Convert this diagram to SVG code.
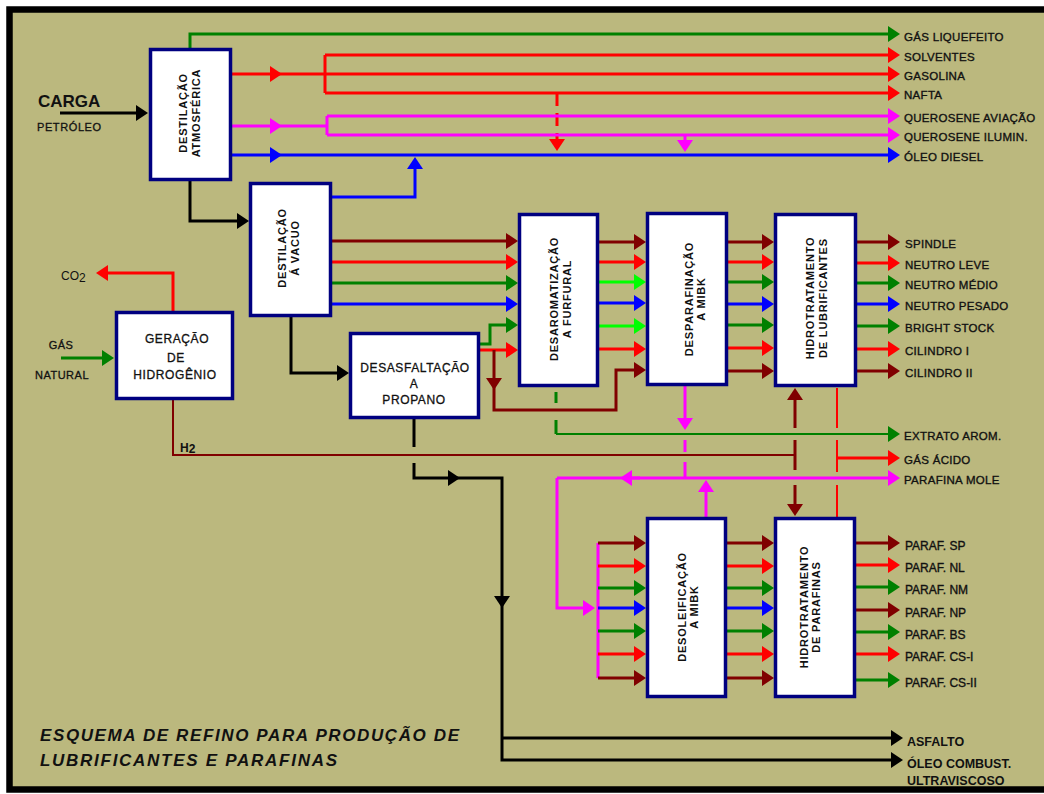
<svg xmlns="http://www.w3.org/2000/svg" width="1044" height="794" viewBox="0 0 1044 794">
<style>
.t{font-family:"Liberation Sans",Arial,sans-serif;fill:#111}
.lb{font-size:11.5px;stroke:#111;stroke-width:0.35px;letter-spacing:0.3px}
.pl{font-size:12px;stroke:#111;stroke-width:0.35px}
.vt{font-size:11px;font-weight:bold;letter-spacing:0.8px;text-anchor:middle}
.ht{font-size:12px;text-anchor:middle;letter-spacing:0.6px;stroke:#111;stroke-width:0.3px}
.bx{fill:#fff;stroke:#000080;stroke-width:3.5}
.c{fill:none;stroke-width:3}
.thin{stroke-width:2}
.dr{stroke:#800000}.r{stroke:#f00}.g{stroke:#008000}.lg{stroke:#0f0}.b{stroke:#00f}.m{stroke:#f0f}.k{stroke:#000}
.mdr{marker-end:url(#adr)}.mr{marker-end:url(#ar)}.mg{marker-end:url(#ag)}.mlg{marker-end:url(#alg)}.mb{marker-end:url(#ab)}.mm{marker-end:url(#am)}.mk{marker-end:url(#ak)}
</style>
<defs>
<marker id="adr" viewBox="0 0 12 16" refX="9" refY="8" markerWidth="12" markerHeight="16" markerUnits="userSpaceOnUse" orient="auto"><path d="M0,0 L12,8 L0,16 z" fill="#800000"/></marker>
<marker id="ar" viewBox="0 0 12 16" refX="9" refY="8" markerWidth="12" markerHeight="16" markerUnits="userSpaceOnUse" orient="auto"><path d="M0,0 L12,8 L0,16 z" fill="#f00"/></marker>
<marker id="ag" viewBox="0 0 12 16" refX="9" refY="8" markerWidth="12" markerHeight="16" markerUnits="userSpaceOnUse" orient="auto"><path d="M0,0 L12,8 L0,16 z" fill="#008000"/></marker>
<marker id="alg" viewBox="0 0 12 16" refX="9" refY="8" markerWidth="12" markerHeight="16" markerUnits="userSpaceOnUse" orient="auto"><path d="M0,0 L12,8 L0,16 z" fill="#0f0"/></marker>
<marker id="ab" viewBox="0 0 12 16" refX="9" refY="8" markerWidth="12" markerHeight="16" markerUnits="userSpaceOnUse" orient="auto"><path d="M0,0 L12,8 L0,16 z" fill="#00f"/></marker>
<marker id="am" viewBox="0 0 12 16" refX="9" refY="8" markerWidth="12" markerHeight="16" markerUnits="userSpaceOnUse" orient="auto"><path d="M0,0 L12,8 L0,16 z" fill="#f0f"/></marker>
<marker id="ak" viewBox="0 0 12 16" refX="9" refY="8" markerWidth="12" markerHeight="16" markerUnits="userSpaceOnUse" orient="auto"><path d="M0,0 L12,8 L0,16 z" fill="#000"/></marker>
</defs>
<rect x="0" y="0" width="1044" height="794" fill="#fff"/>
<rect x="9.5" y="9.5" width="1060" height="780" fill="#bbb87e" stroke="#000" stroke-width="6.5"/>

<g id="connectors">
<!-- top: atmospheric distillation outputs -->
<path class="c g mg" d="M190,48 V34 H897"/>
<path class="c r mr" d="M232,74 H279"/>
<path class="c r mr" d="M279,74 H897"/>
<path class="c r" d="M325,55 V93"/>
<path class="c r mr" d="M325,55 H897"/>
<path class="c r mr" d="M325,93 H897"/>
<path class="c r mr" stroke-width="2.5" stroke-dasharray="13 7" d="M557,93 V148"/>
<path class="c m mm" d="M232,126 H279"/>
<path class="c m" d="M279,126 H327"/>
<path class="c m" d="M327,116 V135"/>
<path class="c m mm" d="M327,116 H897"/>
<path class="c m mm" d="M327,135 H897"/>
<path class="c m mm" d="M685,135 V149"/>
<path class="c b mb" d="M232,155 H279"/>
<path class="c b mb" d="M279,155 H897"/>
<path class="c b mb" d="M332,197 H415 V160"/>
<!-- left -->
<path class="c k mk" d="M60,113 H145"/>
<path class="c k mk" d="M190,181 V221 H246"/>
<path class="c r mr" d="M173,311 V273 H99"/>
<path class="c g mg" stroke-width="2.5" d="M61,358 H111"/>
<path class="c dr thin" d="M173,400 V455 H795"/>
<path class="c k mk" d="M291,317 V373 H346"/>
<!-- vacuum -> desaromatization -->
<path class="c dr mdr" d="M332,241 H515"/>
<path class="c r mr" d="M332,262 H515"/>
<path class="c g mg" d="M332,283 H515"/>
<path class="c b mb" d="M332,304 H515"/>
<!-- deasphalting outputs -->
<path class="c g mg" d="M479,344 H490 V325 H515"/>
<path class="c r mr" d="M479,350 H515"/>
<path class="c dr mdr" d="M494,350 V387"/>
<path class="c dr mdr" d="M494,385 V410 H616 V370 H643"/>
<!-- desaromatization -> dewaxing -->
<path class="c dr mdr" d="M599,242 H643"/>
<path class="c r mr" d="M599,262 H643"/>
<path class="c lg mlg" d="M599,282 H643"/>
<path class="c b mb" d="M599,303 H643"/>
<path class="c lg mlg" d="M599,326 H643"/>
<path class="c r mr" d="M599,349 H643"/>
<!-- extract -->
<path class="c g" d="M556,392 V403 M556,420 V434"/>
<path class="c g mg thin" d="M556,434 H897"/>
<!-- dewaxing -> hydrotreating lubes -->
<path class="c dr mdr" d="M728,242 H771"/>
<path class="c r mr" d="M728,262 H771"/>
<path class="c g mg" d="M728,282 H771"/>
<path class="c b mb" d="M728,304 H771"/>
<path class="c g mg" d="M728,325 H771"/>
<path class="c r mr" d="M728,348 H771"/>
<path class="c dr mdr" d="M728,371 H771"/>
<path class="c m mm" d="M685,385 V427"/>
<path class="c m" d="M685,440 V452 M685,462 V478"/>
<!-- hydrotreating lubes outputs -->
<path class="c dr mdr" d="M857,242 H897"/>
<path class="c r mr" d="M857,263 H897"/>
<path class="c g mg" d="M857,283 H897"/>
<path class="c b mb" d="M857,304 H897"/>
<path class="c g mg" d="M857,326 H897"/>
<path class="c r mr" d="M857,349 H897"/>
<path class="c dr mdr" d="M857,371 H897"/>
<!-- H2 distribution & acid gas -->
<path class="c dr mdr" d="M795,428 V391"/>
<path class="c dr" d="M795,440 V470"/>
<path class="c dr mdr" d="M795,485 V513"/>
<path class="c r thin" d="M837,388 V428 M837,440 V472 M837,485 V517"/>
<path class="c r mr" d="M837,458 H897"/>
<!-- soft wax -->
<path class="c m mm" d="M557,478 H897"/>
<path class="c m mm" d="M640,478 H623"/>
<path class="c m mm" d="M557,478 V608 H592"/>
<path class="c m mm" d="M706,517 V483"/>
<path class="c m" d="M598,543 V678"/>
<!-- deoiling inputs -->
<path class="c dr mdr" d="M598,543 H643"/>
<path class="c r mr" d="M598,566 H643"/>
<path class="c g mg" d="M598,588 H643"/>
<path class="c b mb" d="M598,608 H643"/>
<path class="c g mg" d="M598,631 H643"/>
<path class="c r mr" d="M598,654 H643"/>
<path class="c dr mdr" d="M598,678 H643"/>
<!-- deoiling -> hydrotreating waxes -->
<path class="c dr mdr" d="M727,543 H771"/>
<path class="c r mr" d="M727,566 H771"/>
<path class="c g mg" d="M727,588 H771"/>
<path class="c b mb" d="M727,608 H771"/>
<path class="c g mg" d="M727,631 H771"/>
<path class="c r mr" d="M727,654 H771"/>
<path class="c dr mdr" d="M727,678 H771"/>
<!-- hydrotreating waxes outputs -->
<path class="c dr mdr" d="M856,543 H897"/>
<path class="c r mr" d="M856,565 H897"/>
<path class="c g mg" d="M856,587 H897"/>
<path class="c dr mdr" d="M856,610 H897"/>
<path class="c g mg" d="M856,632 H897"/>
<path class="c r mr" d="M856,654 H897"/>
<path class="c g mg" d="M856,680 H897"/>
<!-- asphalt -->
<path class="c k" d="M414,419 V447"/>
<path class="c k mk" d="M414,463 V478 H457"/>
<path class="c k mk" d="M457,478 H502 V605"/>
<path class="c k mk" d="M502,603 V760 H900"/>
<path class="c k mk" d="M502,738 H900"/>
</g>

<g id="destilacao-atmosferica">
<rect class="bx" x="150.5" y="49.5" width="80" height="130"/>
<text class="t vt" transform="translate(193,113) rotate(-90)"><tspan x="0" y="-6">DESTILAÇÃO</tspan><tspan x="0" y="7">ATMOSFÉRICA</tspan></text>
</g>
<g id="destilacao-vacuo">
<rect class="bx" x="250.5" y="183.5" width="80" height="132"/>
<text class="t vt" transform="translate(292,248) rotate(-90)"><tspan x="0" y="-6">DESTILAÇÃO</tspan><tspan x="0" y="7">Á VACUO</tspan></text>
</g>
<g id="geracao-hidrogenio">
<rect class="bx" x="116.5" y="312.5" width="116" height="86"/>
<text class="t ht" x="177" y="343">GERAÇÃO</text>
<text class="t ht" x="176" y="362">DE</text>
<text class="t ht" x="175" y="379">HIDROGÊNIO</text>
</g>
<g id="desasfaltacao">
<rect class="bx" x="350.5" y="333.5" width="128" height="84"/>
<text class="t ht" x="415" y="372">DESASFALTAÇÃO</text>
<text class="t ht" x="414" y="388">A</text>
<text class="t ht" x="414" y="404">PROPANO</text>
</g>
<g id="desaromatizacao">
<rect class="bx" x="519.5" y="214.5" width="78" height="171"/>
<text class="t vt" transform="translate(564,299) rotate(-90)"><tspan x="0" y="-6">DESAROMATIZAÇÃO</tspan><tspan x="0" y="7">A FURFURAL</tspan></text>
</g>
<g id="desparafinacao">
<rect class="bx" x="647.5" y="213.5" width="79" height="171"/>
<text class="t vt" transform="translate(699,299) rotate(-90)"><tspan x="0" y="-6">DESPARAFINAÇÃO</tspan><tspan x="0" y="6">A MIBK</tspan></text>
</g>
<g id="hidrotratamento-lubrificantes">
<rect class="bx" x="775.5" y="214.5" width="80" height="171"/>
<text class="t vt" transform="translate(820,298) rotate(-90)"><tspan x="0" y="-6">HIDROTRATAMENTO</tspan><tspan x="0" y="7">DE LUBRIFICANTES</tspan></text>
</g>
<g id="desoleificacao">
<rect class="bx" x="647.5" y="518.5" width="78" height="178"/>
<text class="t vt" transform="translate(692,607) rotate(-90)"><tspan x="0" y="-6">DESOLEIFICAÇÃO</tspan><tspan x="0" y="6">A MIBK</tspan></text>
</g>
<g id="hidrotratamento-parafinas">
<rect class="bx" x="775.5" y="518.5" width="79" height="178"/>
<text class="t vt" transform="translate(814,607) rotate(-90)"><tspan x="0" y="-6">HIDROTRATAMENTO</tspan><tspan x="0" y="6">DE PARAFINAS</tspan></text>
</g>

<g id="labels">
<text class="t" x="38" y="107" font-size="17" font-weight="bold" fill="#222">CARGA</text>
<text class="t" x="37" y="131" font-size="11" letter-spacing="0.6" stroke="#111" stroke-width="0.3">PETRÓLEO</text>
<text class="t" x="61" y="349" font-size="11" text-anchor="middle" letter-spacing="0.5" stroke="#111" stroke-width="0.3">GÁS</text>
<text class="t" x="62" y="379" font-size="11" text-anchor="middle" letter-spacing="0.5" stroke="#111" stroke-width="0.3">NATURAL</text>
<text class="t" x="61" y="280" font-size="12">CO<tspan dy="2">2</tspan></text>
<text class="t" x="180" y="452" font-size="12" font-weight="bold">H<tspan dy="1">2</tspan></text>

<text class="t lb" x="904" y="41">GÁS LIQUEFEITO</text>
<text class="t lb" x="904" y="61">SOLVENTES</text>
<text class="t lb" x="904" y="80">GASOLINA</text>
<text class="t lb" x="904" y="99">NAFTA</text>
<text class="t lb" x="904" y="122">QUEROSENE AVIAÇÃO</text>
<text class="t lb" x="904" y="141">QUEROSENE ILUMIN.</text>
<text class="t lb" x="904" y="161">ÓLEO DIESEL</text>

<text class="t lb" x="905" y="248">SPINDLE</text>
<text class="t lb" x="905" y="269">NEUTRO LEVE</text>
<text class="t lb" x="905" y="289">NEUTRO MÉDIO</text>
<text class="t lb" x="905" y="310">NEUTRO PESADO</text>
<text class="t lb" x="905" y="332">BRIGHT STOCK</text>
<text class="t lb" x="905" y="355">CILINDRO I</text>
<text class="t lb" x="905" y="377">CILINDRO II</text>

<text class="t lb" x="904" y="440">EXTRATO AROM.</text>
<text class="t lb" x="904" y="464">GÁS ÁCIDO</text>
<text class="t lb" x="904" y="484">PARAFINA MOLE</text>

<text class="t pl" x="905" y="550">PARAF. SP</text>
<text class="t pl" x="905" y="572">PARAF. NL</text>
<text class="t pl" x="905" y="594">PARAF. NM</text>
<text class="t pl" x="905" y="617">PARAF. NP</text>
<text class="t pl" x="905" y="639">PARAF. BS</text>
<text class="t pl" x="905" y="661">PARAF. CS-I</text>
<text class="t pl" x="905" y="687">PARAF. CS-II</text>

<text class="t" x="907" y="746" font-size="12.5" font-weight="bold">ASFALTO</text>
<text class="t" x="907" y="768" font-size="12.5" font-weight="bold">ÓLEO COMBUST.</text>
<text class="t" x="907" y="785" font-size="12.5" font-weight="bold">ULTRAVISCOSO</text>

<text class="t" x="40" y="741" font-size="17" font-weight="bold" font-style="italic" fill="#222" textLength="419" lengthAdjust="spacing">ESQUEMA DE REFINO PARA PRODUÇÃO DE</text>
<text class="t" x="40" y="766" font-size="17" font-weight="bold" font-style="italic" fill="#222" textLength="297" lengthAdjust="spacing">LUBRIFICANTES E PARAFINAS</text>
</g>
</svg>
